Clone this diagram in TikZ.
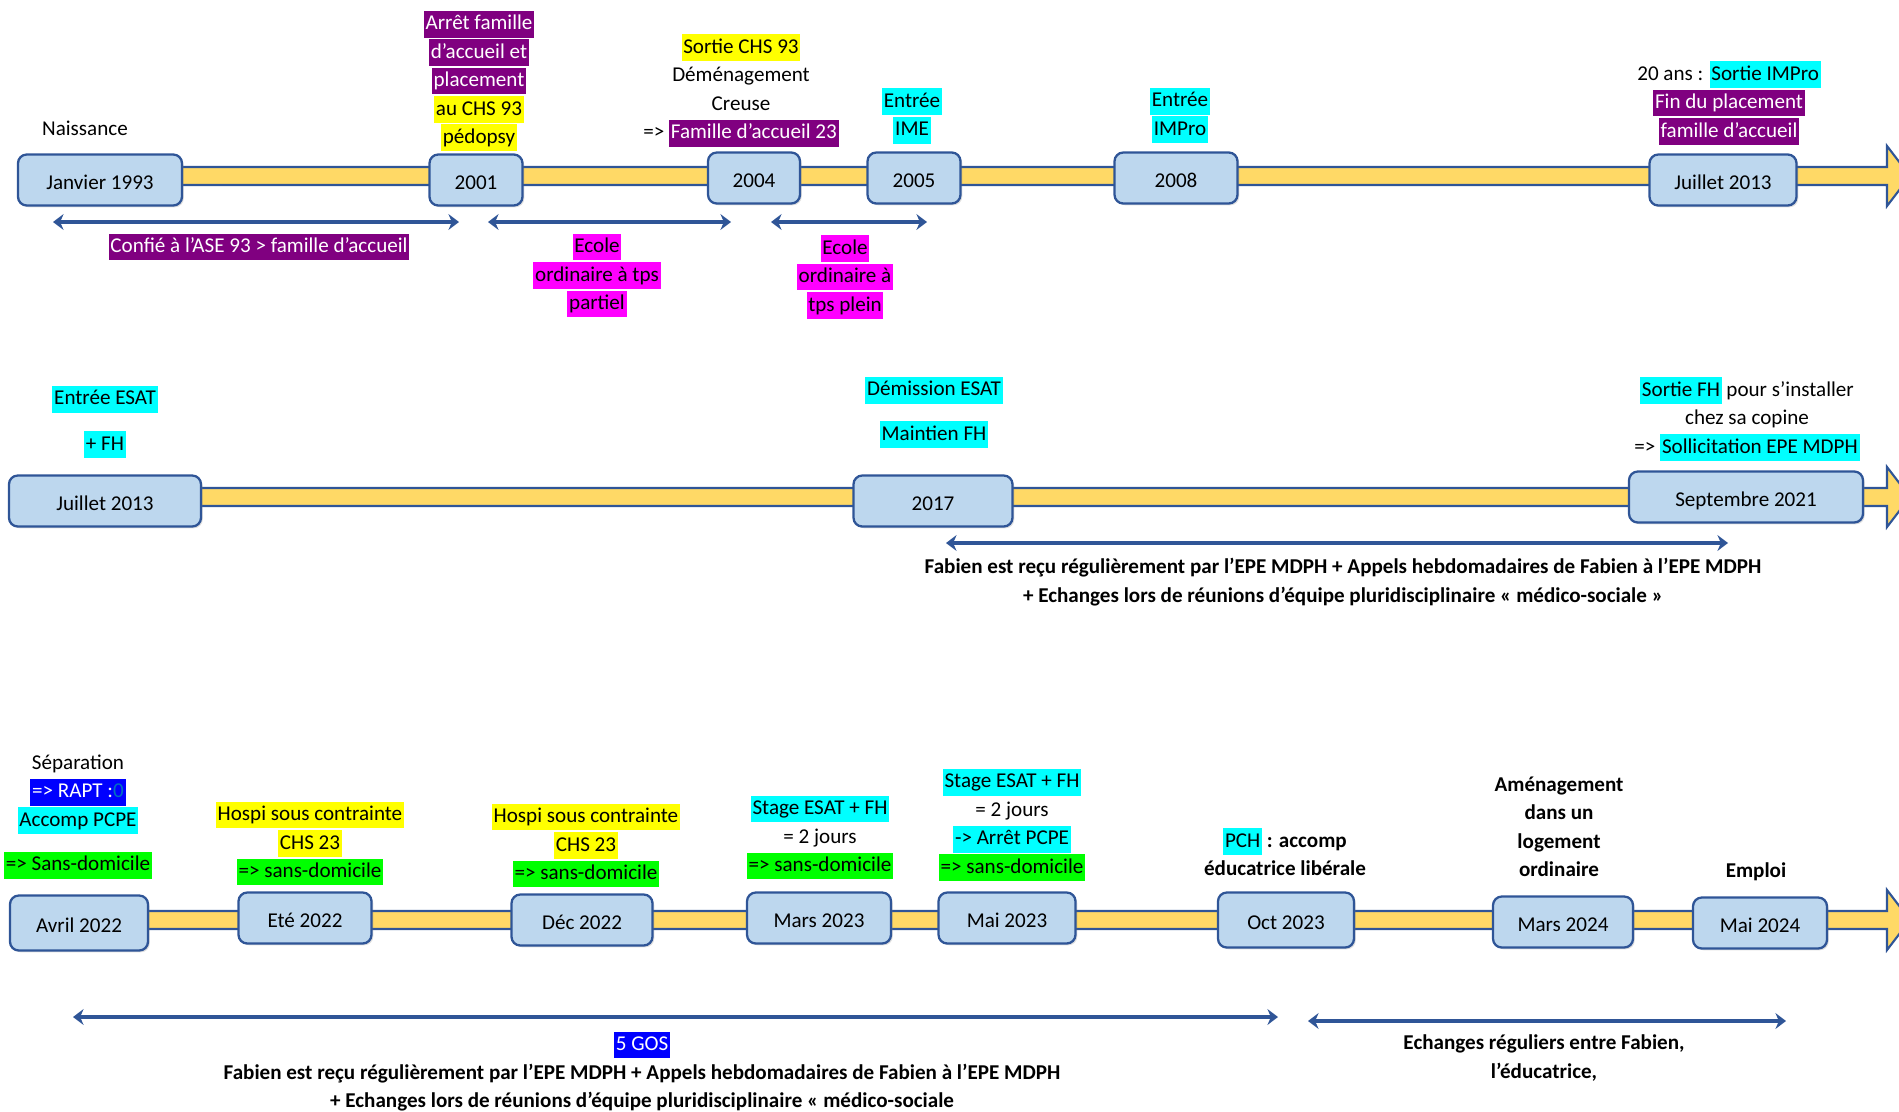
\documentclass[tikz,border=0pt]{standalone}
\usepackage{fontspec}
\setmainfont{Carlito}
\usepackage{xcolor}
\usetikzlibrary{arrows.meta,backgrounds,shadows}

\definecolor{boxfill}{RGB}{189,215,238}
\definecolor{boxline}{RGB}{47,85,151}
\definecolor{barfill}{RGB}{255,217,102}
\definecolor{hlcyan}{RGB}{0,255,255}
\definecolor{hlyellow}{RGB}{255,255,0}
\definecolor{hlpurple}{RGB}{128,0,128}
\definecolor{hlmagenta}{RGB}{255,0,255}
\definecolor{hlgreen}{RGB}{0,255,0}
\definecolor{hlblue}{RGB}{0,0,255}
\definecolor{raptzero}{RGB}{0,112,192}

\newcommand{\hlstrut}{\vrule width 0pt height 10.8pt depth 4.5pt}
\newcommand{\hl}[2]{{\setlength{\fboxsep}{0pt}\colorbox{#1}{\hlstrut\kern1pt #2\kern1pt}}}
\newcommand{\hlw}[2]{\hl{#1}{\color{white}#2}}

\tikzset{
	datebox/.style={draw=boxline, fill=boxfill, line width=1.3pt, rounded corners=5pt,
		minimum width=#1, minimum height=10.2mm, inner sep=0pt,
		text height=10.5pt, text depth=0pt,
		drop shadow={opacity=0.25, shadow xshift=1pt, shadow yshift=-1pt}},
	lbl/.style={align=center, inner sep=0pt},
	note/.style={lbl, font=\fontsize{12}{16.2}\selectfont\bfseries},
	span/.style={draw=boxline, line width=2.6pt,
		{Stealth[length=6pt,width=9pt]}-{Stealth[length=6pt,width=9pt]}},
	bar/.style={draw=boxline, fill=barfill, line width=1.2pt, line join=miter},
}

\begin{document}
\begin{tikzpicture}[x=0.2mm, y=-0.2mm, font=\fontsize{12}{16.2}\selectfont]
	\useasboundingbox (0,0) rectangle (1899,1111);
	
	% Row 1: 1993 -> 2013
	\node[datebox=32.8mm] (jan93) at (100,180) {Janvier 1993};
	\node[datebox=18.6mm] (b2001) at (476,180) {2001};
	\node[datebox=18.4mm] (b2004) at (754,178) {2004};
	\node[datebox=18.6mm] (b2005) at (914,178) {2005};
	\node[datebox=24.6mm] (b2008) at (1176,178) {2008};
	\node[datebox=29.4mm] (jul13a) at (1723,180) {Juillet 2013};
	
	\node[lbl] (naiss) at (85,130) {\hlstrut Naissance};
	\node[lbl] (l2001) at (479,81) {\hlw{hlpurple}{Arrêt famille}\\ \hlw{hlpurple}{d’accueil et}\\ \hlw{hlpurple}{placement}\\ \hl{hlyellow}{au CHS 93}\\ \hl{hlyellow}{pédopsy}};
	\node[lbl] (l2004) at (741,90.5) {\hl{hlyellow}{Sortie CHS 93}\\ \hlstrut Déménagement\\ \hlstrut Creuse\\ => \hlw{hlpurple}{Famille d’accueil 23}};
	\node[lbl] (l2005) at (912,116) {\hl{hlcyan}{Entrée}\\ \hl{hlcyan}{IME}};
	\node[lbl] (l2008) at (1180,115.5) {\hl{hlcyan}{Entrée}\\ \hl{hlcyan}{IMPro}};
	\node[lbl] (l2013) at (1729,103) {20 ans : \hl{hlcyan}{Sortie IMPro}\\ \hlw{hlpurple}{Fin du placement}\\ \hlw{hlpurple}{famille d’accueil}};
	
	\coordinate (s1a) at (53,222);  \coordinate (s1b) at (459,222);
	\coordinate (s2a) at (488,222); \coordinate (s2b) at (731,222);
	\coordinate (s3a) at (771,222); \coordinate (s3b) at (927,222);
	\draw[span] (s1a) -- (s1b);
	\draw[span] (s2a) -- (s2b);
	\draw[span] (s3a) -- (s3b);
	
	\node[lbl] (confie) at (259,247) {\hlw{hlpurple}{Confié à l’ASE 93 > famille d’accueil}};
	\node[lbl] (ecole1) at (597,275.5) {\hl{hlmagenta}{Ecole}\\ \hl{hlmagenta}{ordinaire à tps}\\ \hl{hlmagenta}{partiel}};
	\node[lbl] (ecole2) at (845,277) {\hl{hlmagenta}{Ecole}\\ \hl{hlmagenta}{ordinaire à}\\ \hl{hlmagenta}{tps plein}};
	
	% Row 2: 2013 -> 2021
	\node[datebox=38.4mm] (jul13b) at (105,501) {Juillet 2013};
	\node[datebox=31.8mm] (b2017) at (933,501) {2017};
	\node[datebox=46.8mm] (sep21) at (1746,497) {Septembre 2021};
	
	\node[lbl] (esat) at (105,422) {\hl{hlcyan}{Entrée ESAT}\\[9.6pt] \hl{hlcyan}{+ FH}};
	\node[lbl] (demis) at (934,412.5) {\hl{hlcyan}{Démission ESAT}\\[9.3pt] \hl{hlcyan}{Maintien FH}};
	\node[lbl] (sortie) at (1747,419) {\hl{hlcyan}{Sortie FH} pour s’installer\\ \hlstrut chez sa copine\\ => \hl{hlcyan}{Sollicitation EPE MDPH}};
	
	\coordinate (s4a) at (946,543); \coordinate (s4b) at (1728,543);
	\draw[span] (s4a) -- (s4b);
	\node[note] (suivi1) at (1343,582.5) {\hlstrut Fabien est reçu régulièrement par l’EPE MDPH + Appels hebdomadaires de Fabien à l’EPE MDPH\\ \hlstrut + Echanges lors de réunions d’équipe pluridisciplinaire « médico-sociale »};
	
	% Row 3: 2022 -> 2024
	\node[datebox=27.6mm, minimum height=11mm] (avr22) at (79,923) {Avril 2022};
	\node[datebox=26.6mm] (ete22) at (305,918) {Eté 2022};
	\node[datebox=28.2mm] (dec22) at (582,920) {Déc 2022};
	\node[datebox=28.8mm] (mar23) at (819,918) {Mars 2023};
	\node[datebox=27.4mm] (mai23) at (1007,918) {Mai 2023};
	\node[datebox=27.2mm, minimum height=11mm] (oct23) at (1286,920) {Oct 2023};
	\node[datebox=28mm] (mar24) at (1563,922) {Mars 2024};
	\node[datebox=26.8mm] (mai24) at (1760,923) {Mai 2024};
	
	\node[lbl] (separ) at (78,814.5) {\hlstrut Séparation\\ \hlw{hlblue}{=> RAPT :{\color{raptzero}0}}\\ \hl{hlcyan}{Accomp PCPE}\\[9pt] \hl{hlgreen}{=> Sans-domicile}};
	\node[lbl] (hosp1) at (310,843.5) {\hl{hlyellow}{Hospi sous contrainte}\\ \hl{hlyellow}{CHS 23}\\ \hl{hlgreen}{=> sans-domicile}};
	\node[lbl] (hosp2) at (586,845.5) {\hl{hlyellow}{Hospi sous contrainte}\\ \hl{hlyellow}{CHS 23}\\ \hl{hlgreen}{=> sans-domicile}};
	\node[lbl] (stage1) at (820,837.5) {\hl{hlcyan}{Stage ESAT + FH}\\ \hlstrut = 2 jours\\ \hl{hlgreen}{=> sans-domicile}};
	\node[lbl] (stage2) at (1012,825) {\hl{hlcyan}{Stage ESAT + FH}\\ \hlstrut = 2 jours\\ \hl{hlcyan}{-> Arrêt PCPE}\\ \hl{hlgreen}{=> sans-domicile}};
	\node[lbl] (pch) at (1285,856) {\hl{hlcyan}{PCH}\textbf{ : accomp}\\ \hlstrut\textbf{éducatrice libérale}};
	\node[note] (amenag) at (1559,828.5) {\hlstrut Aménagement\\ \hlstrut dans un\\ \hlstrut logement\\ \hlstrut ordinaire};
	\node[note] (emploi) at (1756,872) {\hlstrut Emploi};
	
	\coordinate (s5a) at (73,1017);  \coordinate (s5b) at (1278,1017);
	\coordinate (s6a) at (1308,1021); \coordinate (s6b) at (1786,1021);
	\draw[span] (s5a) -- (s5b);
	\draw[span] (s6a) -- (s6b);
	\node[note] (suivi2) at (642,1073.5) {\hlw{hlblue}{\mdseries 5 GOS}\\ \hlstrut Fabien est reçu régulièrement par l’EPE MDPH + Appels hebdomadaires de Fabien à l’EPE MDPH\\ \hlstrut + Echanges lors de réunions d’équipe pluridisciplinaire « médico-sociale};
	\node[note] (echg) at (1544,1058.5) {\hlstrut Echanges réguliers entre Fabien,\\ \hlstrut l’éducatrice,};
	
	% Time bars behind the boxes
	\begin{scope}[on background layer]
		\foreach \x/\y in {100/176, 105/497, 79/920}
		\draw[bar] (\x,\y-9) -- (1887,\y-9) -- (1887,\y-30) -- (1910,\y) -- (1887,\y+30) -- (1887,\y+9) -- (\x,\y+9) -- cycle;
	\end{scope}
\end{tikzpicture}
\end{document}
